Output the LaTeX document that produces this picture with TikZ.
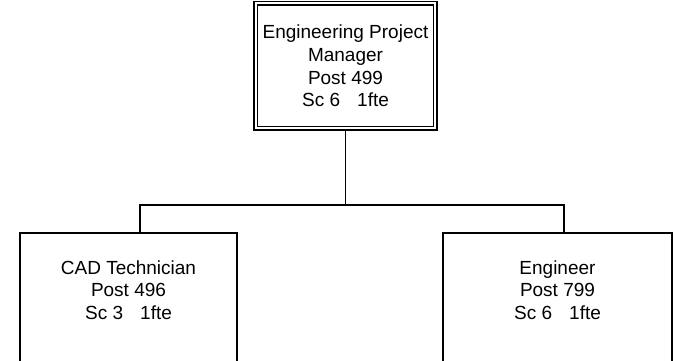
\documentclass[tikz,border=0pt]{standalone}
\usepackage{fontspec}
\setmainfont{Liberation Sans}
\tikzset{
  box/.style={draw=black, line width=1.4pt, align=center, inner sep=0pt},
  txt/.style={align=center, font=\fontsize{19}{22.6}\selectfont, inner sep=0pt},
  conn/.style={draw=black, line width=1.4pt},
}
\begin{document}
\begin{tikzpicture}[x=1pt,y=-1pt]
\useasboundingbox (0,0) rectangle (675,360);
\clip (0,0) rectangle (675,360);
% top box with double border
\draw[line width=1.3pt] (254,1.5) rectangle (437,130);
\draw[line width=1.3pt] (257.5,5) rectangle (433.5,126.5);
\node[txt] (top) at (345.5,66) {Engineering Project\\Manager\\Post 499\\Sc 6\hspace{0.9em}1fte};
\coordinate (topb) at (345.5,130);
% bottom boxes
\draw[line width=1.4pt] (20,233) rectangle (237,380);
\draw[line width=1.4pt] (443,233) rectangle (672,380);
\node[txt] (cad) at (128.5,290) {CAD Technician\\Post 496\\Sc 3\hspace{0.9em}1fte};
\node[txt] (eng) at (557.5,290) {Engineer\\Post 799\\Sc 6\hspace{0.9em}1fte};
\coordinate (cadt) at (140,233);
\coordinate (engt) at (564,233);
\coordinate (bus) at (345.5,205);
\draw[conn] (topb) -- (bus);
\draw[conn] (cadt) -- (140,205) -- (564,205) -- (engt);
\end{tikzpicture}
\end{document}
